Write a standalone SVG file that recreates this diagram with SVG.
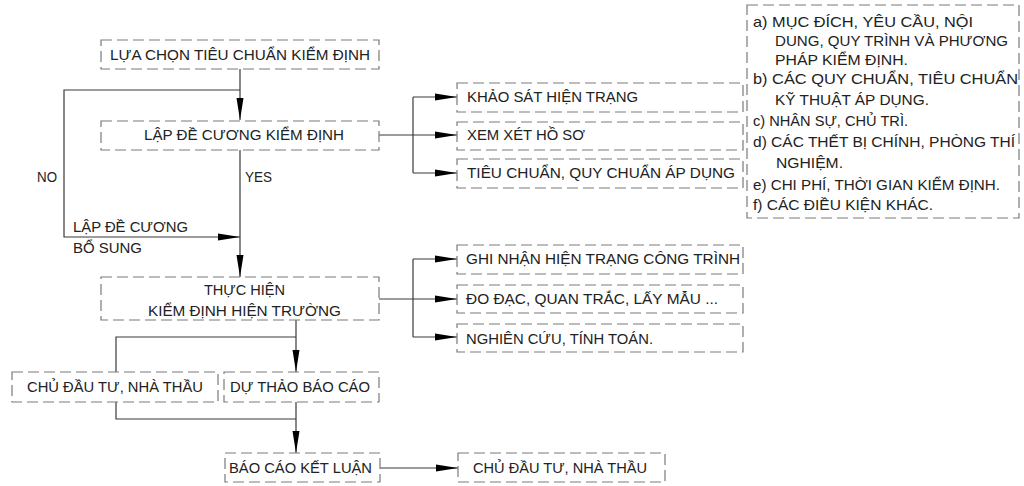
<svg xmlns="http://www.w3.org/2000/svg" width="1024" height="486" viewBox="0 0 1024 486">
<style>
.box{fill:none;stroke:#7a7a7a;stroke-width:1.2;stroke-dasharray:11,5}
.ln{fill:none;stroke:#3a3a3a;stroke-width:1.2}
.t{font-family:"Liberation Sans",Arial,sans-serif;font-size:14.5px;fill:#222}
</style>
<defs>
<marker id="ah" markerUnits="userSpaceOnUse" markerWidth="22" markerHeight="8" refX="22" refY="4" orient="auto">
<path d="M0,0.5 L22,4 L0,7.5 z" fill="#000"/>
</marker>
</defs>
<rect width="1024" height="486" fill="#fff"/>
<g id="connectors">
<path class="ln" d="M240,69 V120" marker-end="url(#ah)"/>
<path class="ln" d="M240,90 H64 V237 H240" marker-end="url(#ah)"/>
<path class="ln" d="M240,150 V277" marker-end="url(#ah)"/>
<path class="ln" d="M379,135 H413"/>
<path class="ln" d="M413,97 V173"/>
<path class="ln" d="M413,97 H457" marker-end="url(#ah)"/>
<path class="ln" d="M413,135 H457" marker-end="url(#ah)"/>
<path class="ln" d="M413,173 H457" marker-end="url(#ah)"/>
<path class="ln" d="M379,299 H413"/>
<path class="ln" d="M413,259 V337"/>
<path class="ln" d="M413,259 H457" marker-end="url(#ah)"/>
<path class="ln" d="M413,299 H457" marker-end="url(#ah)"/>
<path class="ln" d="M413,337 H457" marker-end="url(#ah)"/>
<path class="ln" d="M296,320 V372" marker-end="url(#ah)"/>
<path class="ln" d="M296,337 H116 V372"/>
<path class="ln" d="M116,402 V419 H296"/>
<path class="ln" d="M296,402 V453" marker-end="url(#ah)"/>
<path class="ln" d="M380,468 H458" marker-end="url(#ah)"/>
<text class="t" x="37" y="182" textLength="20" lengthAdjust="spacingAndGlyphs">NO</text>
<text class="t" x="245" y="182" textLength="27" lengthAdjust="spacingAndGlyphs">YES</text>
<text class="t" x="73" y="232" textLength="115" lengthAdjust="spacingAndGlyphs">LẬP ĐỀ CƯƠNG</text>
<text class="t" x="73" y="253" textLength="69" lengthAdjust="spacingAndGlyphs">BỔ SUNG</text>
</g>
<g id="n1">
<rect class="box" x="101" y="40" width="278" height="29"/>
<text class="t" x="110" y="60" textLength="260" lengthAdjust="spacingAndGlyphs">LỰA CHỌN TIÊU CHUẨN KIỂM ĐỊNH</text>
</g>
<g id="n2">
<rect class="box" x="101" y="121" width="278" height="29"/>
<text class="t" x="144" y="140" textLength="200" lengthAdjust="spacingAndGlyphs">LẬP ĐỀ CƯƠNG KIỂM ĐỊNH</text>
</g>
<g id="n3">
<rect class="box" x="457" y="83" width="286" height="29"/>
<text class="t" x="467" y="102" textLength="171" lengthAdjust="spacingAndGlyphs">KHẢO SÁT HIỆN TRẠNG</text>
</g>
<g id="n4">
<rect class="box" x="457" y="122" width="286" height="28"/>
<text class="t" x="467" y="140" textLength="118" lengthAdjust="spacingAndGlyphs">XEM XÉT HỒ SƠ</text>
</g>
<g id="n5">
<rect class="box" x="457" y="159" width="286" height="29"/>
<text class="t" x="467" y="178" textLength="268" lengthAdjust="spacingAndGlyphs">TIÊU CHUẨN, QUY CHUẨN ÁP DỤNG</text>
</g>
<g id="n6">
<rect class="box" x="747" y="5" width="272" height="213"/>
<text class="t" x="753" y="27" textLength="220" lengthAdjust="spacingAndGlyphs">a) MỤC ĐÍCH, YÊU CẦU, NỘI</text>
<text class="t" x="775" y="46" textLength="233" lengthAdjust="spacingAndGlyphs">DUNG, QUY TRÌNH VÀ PHƯƠNG</text>
<text class="t" x="775" y="65" textLength="133" lengthAdjust="spacingAndGlyphs">PHÁP KIỂM ĐỊNH.</text>
<text class="t" x="753" y="84" textLength="265" lengthAdjust="spacingAndGlyphs">b) CÁC QUY CHUẨN, TIÊU CHUẨN</text>
<text class="t" x="775" y="105" textLength="154" lengthAdjust="spacingAndGlyphs">KỸ THUẬT ÁP DỤNG.</text>
<text class="t" x="753" y="126" textLength="155" lengthAdjust="spacingAndGlyphs">c) NHÂN SỰ, CHỦ TRÌ.</text>
<text class="t" x="753" y="147" textLength="262" lengthAdjust="spacingAndGlyphs">d) CÁC THẾT BỊ CHÍNH, PHÒNG THÍ</text>
<text class="t" x="776" y="168" textLength="67" lengthAdjust="spacingAndGlyphs">NGHIỆM.</text>
<text class="t" x="753" y="190" textLength="247" lengthAdjust="spacingAndGlyphs">e) CHI PHÍ, THỜI GIAN KIỂM ĐỊNH.</text>
<text class="t" x="753" y="210" textLength="180" lengthAdjust="spacingAndGlyphs">f) CÁC ĐIỀU KIỆN KHÁC.</text>
</g>
<g id="n7">
<rect class="box" x="101" y="277" width="278" height="43"/>
<text class="t" x="204" y="295" textLength="81" lengthAdjust="spacingAndGlyphs">THỰC HIỆN</text>
<text class="t" x="148" y="316" textLength="193" lengthAdjust="spacingAndGlyphs">KIỂM ĐỊNH HIỆN TRƯỜNG</text>
</g>
<g id="n8">
<rect class="box" x="457" y="245" width="286" height="29"/>
<text class="t" x="466" y="264" textLength="274" lengthAdjust="spacingAndGlyphs">GHI NHẬN HIỆN TRẠNG CÔNG TRÌNH</text>
</g>
<g id="n9">
<rect class="box" x="457" y="285" width="286" height="28"/>
<text class="t" x="466" y="304" textLength="252" lengthAdjust="spacingAndGlyphs">ĐO ĐẠC, QUAN TRẮC, LẤY MẪU ...</text>
</g>
<g id="n10">
<rect class="box" x="457" y="324" width="286" height="28"/>
<text class="t" x="466" y="344" textLength="187" lengthAdjust="spacingAndGlyphs">NGHIÊN CỨU, TÍNH TOÁN.</text>
</g>
<g id="n11">
<rect class="box" x="12" y="372" width="206" height="30"/>
<text class="t" x="27" y="392" textLength="176" lengthAdjust="spacingAndGlyphs">CHỦ ĐẦU TƯ, NHÀ THẦU</text>
</g>
<g id="n12">
<rect class="box" x="224" y="372" width="155" height="30"/>
<text class="t" x="230" y="392" textLength="140" lengthAdjust="spacingAndGlyphs">DỰ THẢO BÁO CÁO</text>
</g>
<g id="n13">
<rect class="box" x="225" y="453" width="155" height="29"/>
<text class="t" x="229" y="473" textLength="143" lengthAdjust="spacingAndGlyphs">BÁO CÁO KẾT LUẬN</text>
</g>
<g id="n14">
<rect class="box" x="458" y="453" width="207" height="29"/>
<text class="t" x="473" y="473" textLength="174" lengthAdjust="spacingAndGlyphs">CHỦ ĐẦU TƯ, NHÀ THẦU</text>
</g>
</svg>
